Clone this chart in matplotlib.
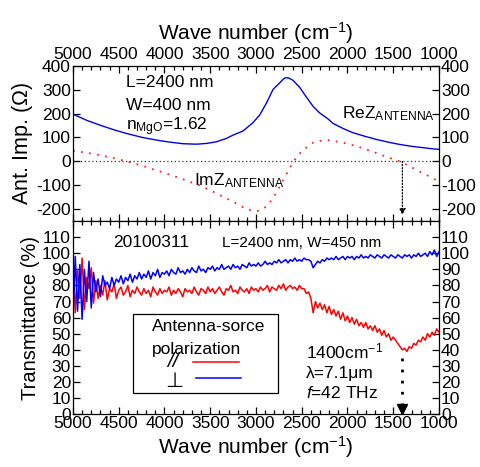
import numpy as np
import matplotlib
matplotlib.use("Agg")
import matplotlib.pyplot as plt
from matplotlib.ticker import MultipleLocator
from matplotlib.patches import Rectangle

plt.rcParams['font.family'] = ['Liberation Sans', 'DejaVu Sans']
plt.rcParams['mathtext.fontset'] = 'custom'
plt.rcParams['mathtext.rm'] = 'Liberation Sans'
plt.rcParams['mathtext.it'] = 'Liberation Sans:italic'
plt.rcParams['mathtext.default'] = 'regular'
plt.rcParams['axes.unicode_minus'] = False

# antenna impedance
re_wn = [5000, 4850, 4707, 4550, 4416, 4250, 4100, 3950, 3800, 3650, 3542, 3433, 3324,
         3251, 3142, 3033, 2960, 2887, 2814, 2741, 2700, 2675, 2640, 2596, 2522, 2450,
         2377, 2304, 2213, 2158, 2049, 1940, 1800, 1684, 1550, 1430, 1300, 1211, 1100, 1000]
re_z = [198, 172, 152, 132, 117, 101, 90, 81, 74, 72, 75, 82, 96,
        110, 127, 162, 194, 243, 301, 329, 345, 351, 349, 340, 310, 270,
        231, 203, 178, 159, 138, 120, 104, 92, 80, 71, 63, 59, 54, 50]
im_wn = [5000, 4850, 4707, 4550, 4416, 4250, 4162, 4000, 3798, 3600, 3433, 3251, 3142,
         3033, 2960, 2887, 2814, 2741, 2670, 2596, 2540, 2486, 2377, 2300, 2213, 2100,
         1976, 1850, 1721, 1580, 1430, 1320, 1211, 1100, 1000]
im_z = [44, 36, 26, 13, 0, -17, -29, -48, -75, -103, -134, -169, -192,
        -209, -207, -190, -155, -106, -55, -4, 25, 47, 78, 86, 89, 82,
        72, 57, 40, 20, 0, -20, -43, -64, -85]

# transmittance spectra, every 25 cm-1 from 5000 down to 1000
t_wn = np.arange(5000, 999, -25)
t_para = [96, 63, 90, 72, 97, 65, 85, 78, 91, 69, 83,
          72, 80, 74, 83, 71, 78, 76, 81, 72, 77,
          79, 74, 76, 80, 73, 77, 75, 79, 76, 74,
          78, 75, 77, 73, 79, 76, 74, 78, 75, 77,
          76, 79, 74, 77, 75, 78, 76, 73, 78, 76,
          77, 75, 79, 76, 74, 78, 77, 75, 79, 76,
          78, 75, 77, 79, 76, 74, 78, 77, 80, 76,
          77, 75, 79, 77, 76, 78, 75, 79, 77, 78,
          76, 79, 77, 78, 80, 76, 79, 78, 77, 80,
          78, 81, 77, 79, 80, 78, 79, 77, 80, 78,
          78, 75, 76, 72, 63, 70, 66, 69, 65, 68,
          63, 67, 62, 65, 61, 64, 59, 63, 58, 61,
          57, 60, 56, 59, 55, 57, 54, 57, 53, 55,
          52, 55, 51, 53, 49, 52, 48, 50, 46, 48,
          46, 44, 42, 40, 41, 39, 42, 41, 44, 43,
          46, 45, 48, 46, 50, 48, 51, 49, 53, 51]
t_perp = [60, 98, 64, 93, 59, 90, 70, 95, 66, 88, 76,
          84, 73, 86, 80, 82, 78, 85, 80, 84, 82,
          86, 81, 85, 83, 87, 82, 86, 84, 88, 84,
          87, 85, 89, 84, 88, 86, 90, 85, 88, 87,
          89, 86, 90, 88, 87, 91, 88, 89, 87, 90,
          88, 91, 89, 88, 92, 89, 90, 88, 91, 90,
          92, 89, 91, 90, 93, 90, 91, 92, 90, 93,
          91, 92, 90, 93, 92, 91, 94, 92, 93, 92,
          94, 92, 93, 95, 93, 94, 93, 95, 94, 96,
          94, 95, 96, 94, 96, 95, 97, 95, 96, 95,
          97, 96, 96, 95, 91, 93, 95, 94, 96, 95,
          97, 96, 97, 96, 98, 96, 97, 98, 96, 98,
          97, 98, 96, 98, 97, 99, 97, 98, 97, 99,
          98, 97, 99, 98, 97, 99, 98, 97, 99, 98,
          97, 99, 98, 97, 99, 98, 99, 97, 99, 98,
          100, 98, 99, 100, 98, 101, 99, 102, 98, 101]

res_wn = 1400
xticks = [5000, 4500, 4000, 3500, 3000, 2500, 2000, 1500, 1000]

fig = plt.figure(figsize=(4.8, 4.67), dpi=100)
ax1 = fig.add_axes([0.152, 0.5268, 0.7625, 0.332])
ax2 = fig.add_axes([0.152, 0.1128, 0.7625, 0.414])

tick_fs = 12.5
for ax in (ax1, ax2):
    ax.set_xlim(5000, 1000)
    ax.set_xticks(xticks)
    ax.xaxis.set_minor_locator(MultipleLocator(100))
    ax.tick_params(which='both', direction='in', top=True, bottom=True,
                   left=True, right=True, labelsize=tick_fs, pad=1.5)
    ax.tick_params(which='major', length=5, width=0.9)
    ax.tick_params(which='minor', length=3, width=0.9)
    for s in ax.spines.values():
        s.set_linewidth(0.9)

# upper panel
ax1.plot(re_wn, re_z, color='#0000ee', lw=1.0)
ax1.plot(im_wn, im_z, color='#ff2020', lw=1.3, ls=(0, (1, 3.5)))
ax1.axhline(0, color='#333333', lw=0.9, ls=(0, (1, 2)))
ax1.annotate('', xy=(res_wn, -225), xytext=(res_wn, 0),
             arrowprops=dict(arrowstyle='-|>', color='black', lw=0.9, ls=(0, (1, 1.5)),
                             mutation_scale=9, shrinkA=0, shrinkB=0))
ax1.set_ylim(-250, 400)
ax1.set_yticks([-200, -100, 0, 100, 200, 300, 400])
ax1.tick_params(labeltop=True, labelbottom=False, labelleft=True, labelright=True)
ax1.tick_params(axis='x', pad=3)
ax1.xaxis.set_label_position('top')
ax1.set_xlabel('Wave number (cm$^{-1}$)', fontsize=15, labelpad=5)
ax1.set_ylabel('Ant. Imp. ($\\Omega$)', fontsize=15.5, labelpad=1)

ax1.text(0.144, 0.865, 'L=2400 nm', transform=ax1.transAxes, fontsize=12.5)
ax1.text(0.144, 0.716, 'W=400 nm', transform=ax1.transAxes, fontsize=12.5)
ax1.text(0.144, 0.587, 'n$_{MgO}$=1.62', transform=ax1.transAxes, fontsize=12.5)
ax1.text(0.734, 0.665, 'ReZ$_{ANTENNA}$', transform=ax1.transAxes, fontsize=12.5)
ax1.text(0.33, 0.232, 'ImZ$_{ANTENNA}$', transform=ax1.transAxes, fontsize=12.5)

# lower panel
ax2.plot(t_wn, t_para, color='#ff0000', lw=1.1)
ax2.plot(t_wn, t_perp, color='#0000ff', lw=1.1)
ax2.plot([res_wn, res_wn], [35, 7], color='black', lw=2, ls=(0, (1, 3)))
ax2.plot([res_wn], [3.5], marker='v', color='black', ms=7, ls='none')
ax2.set_ylim(0, 120)
ax2.set_yticks(np.arange(0, 111, 10))
ax2.tick_params(labeltop=False, labelbottom=True, labelleft=True, labelright=True)
ax2.set_xlabel('Wave number (cm$^{-1}$)', fontsize=15, labelpad=2)
ax2.set_ylabel('Transmittance (%)', fontsize=14.5, labelpad=1)

ax2.text(0.109, 0.867, '20100311', transform=ax2.transAxes, fontsize=12.5)
ax2.text(0.406, 0.867, 'L=2400 nm, W=450 nm', transform=ax2.transAxes, fontsize=11)
ax2.text(0.636, 0.291, '1400cm$^{-1}$', transform=ax2.transAxes, fontsize=12.5)
ax2.text(0.636, 0.188, '\u03bb=7.1\u03bcm', transform=ax2.transAxes, fontsize=12.5)
ax2.text(0.636, 0.085, '$\\mathit{f}$=42 THz', transform=ax2.transAxes, fontsize=12.5)

# hand-made legend box
tr = ax2.transAxes
ax2.add_patch(Rectangle((0.163, 0.110), 0.396, 0.409, transform=tr, fill=True,
                        facecolor='white', edgecolor='black', lw=0.9, zorder=5))
ax2.text(0.215, 0.432, 'Antenna-sorce', transform=tr, fontsize=12.5, zorder=6)
ax2.text(0.215, 0.313, 'polarization', transform=tr, fontsize=12.5, zorder=6)
ax2.text(0.272, 0.272, '//', transform=tr, fontsize=15, ha='center', va='center',
         style='italic', zorder=6)
ax2.text(0.278, 0.172, '\u22a5', transform=tr, fontsize=15, ha='center', va='center',
         family='DejaVu Sans', zorder=6)
ax2.plot([0.327, 0.455], [0.271, 0.271], color='#ff0000', lw=1.1, transform=tr, zorder=6)
ax2.plot([0.335, 0.458], [0.188, 0.188], color='#0000ff', lw=1.1, transform=tr, zorder=6)

fig.savefig('out.png', dpi=100)
